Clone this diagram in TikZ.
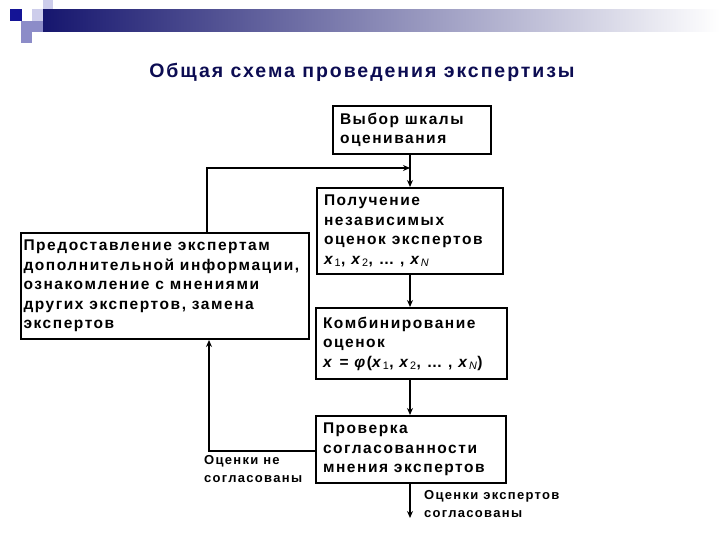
\documentclass[tikz,border=0pt]{standalone}
\usepackage{fontspec}
\setmainfont{Liberation Sans}
\newfontfamily\boxfamily[LetterSpace=10]{Liberation Sans}
\newfontfamily\lblfamily[LetterSpace=10]{Liberation Sans}
\newfontfamily\titlefamily[LetterSpace=10]{Liberation Sans}
\usetikzlibrary{arrows.meta}
\definecolor{titlenavy}{RGB}{12,12,82}
\definecolor{barnavy}{RGB}{22,22,110}
\definecolor{sqdark}{RGB}{20,20,150}
\definecolor{sqmid}{RGB}{140,140,200}
\definecolor{sqlight}{RGB}{205,205,235}
\tikzset{
  box/.style={draw, line width=2pt, anchor=north west, inner xsep=7pt, inner ysep=0pt,
    align=flush left, font=\boxfamily\bfseries\fontsize{15.5}{19.5}\selectfont},
  lbl/.style={anchor=north west, inner sep=0pt, align=flush left,
    font=\lblfamily\bfseries\fontsize{13}{18}\selectfont},
  arr/.style={line width=2pt, -{Stealth[length=7pt,width=6pt]}}
}
\newcommand{\xs}[1]{\textit{x}\textsubscript{\mdseries\upshape #1}}
\newcommand{\xN}{\textit{x}\textsubscript{\mdseries\itshape N}}
\begin{document}
\begin{tikzpicture}[x=1pt,y=-1pt]
\useasboundingbox (0,0) rectangle (720,540);
% header decoration
\fill[sqlight] (43,0) rectangle (53,10);
\fill[sqlight] (32,9) rectangle (43,21);
\fill[sqmid] (21,21) rectangle (43,32);
\fill[sqdark] (10,9) rectangle (22,21);
\fill[sqmid] (21,32) rectangle (32,43);
\shade[left color=barnavy, right color=white] (43,10) rectangle (720,32);
% title
\node[font=\titlefamily\bfseries\fontsize{19.5}{23}\selectfont, text=titlenavy] (title) at (362,72) {Общая схема проведения экспертизы};
% boxes
\node[box, text width=144pt, minimum height=48pt] (b1) at (332,105) {Выбор шкалы\\оценивания};
\node[box, text width=172pt, minimum height=86pt] (b2) at (316,187) {Получение\\независимых\\оценок экспертов\\\mbox{\xs{1}, \xs{2}, … , \xN}};
\node[box, text width=177pt, minimum height=71pt] (b4) at (315,307) {Комбинирование\\оценок\\\mbox{\textit{x} = \textit{φ}(\xs{1}, \xs{2}, … , \xN)}};
\node[box, text width=176pt, minimum height=67pt] (b5) at (315,415) {Проверка\\согласованности\\мнения экспертов};
\node[box, inner xsep=2.5pt, text width=283pt, minimum height=106pt] (bl) at (20,232) {Предоставление экспертам\\дополнительной информации,\\ознакомление с мнениями\\других экспертов, замена\\экспертов};
% labels
\node[lbl] (l1) at (204,455) {Оценки не\\согласованы};
\node[lbl] (l2) at (424,490) {Оценки экспертов\\согласованы};
% connectors
\coordinate (cx) at (410,0);
\coordinate (c1) at (207,168);
\coordinate (c2) at (209,451);
\coordinate (c3) at (410,518);
\draw[arr] (b1.south -| cx) -- (b2.north -| cx);
\draw[arr] (c1 |- bl.north) -- (c1) -- (c1 -| cx);
\draw[arr] (b2.south -| cx) -- (b4.north -| cx);
\draw[arr] (b4.south -| cx) -- (b5.north -| cx);
\draw[arr] (b5.west |- c2) -- (c2) -- (c2 |- bl.south);
\draw[arr] (b5.south -| cx) -- (c3);
\end{tikzpicture}
\end{document}
